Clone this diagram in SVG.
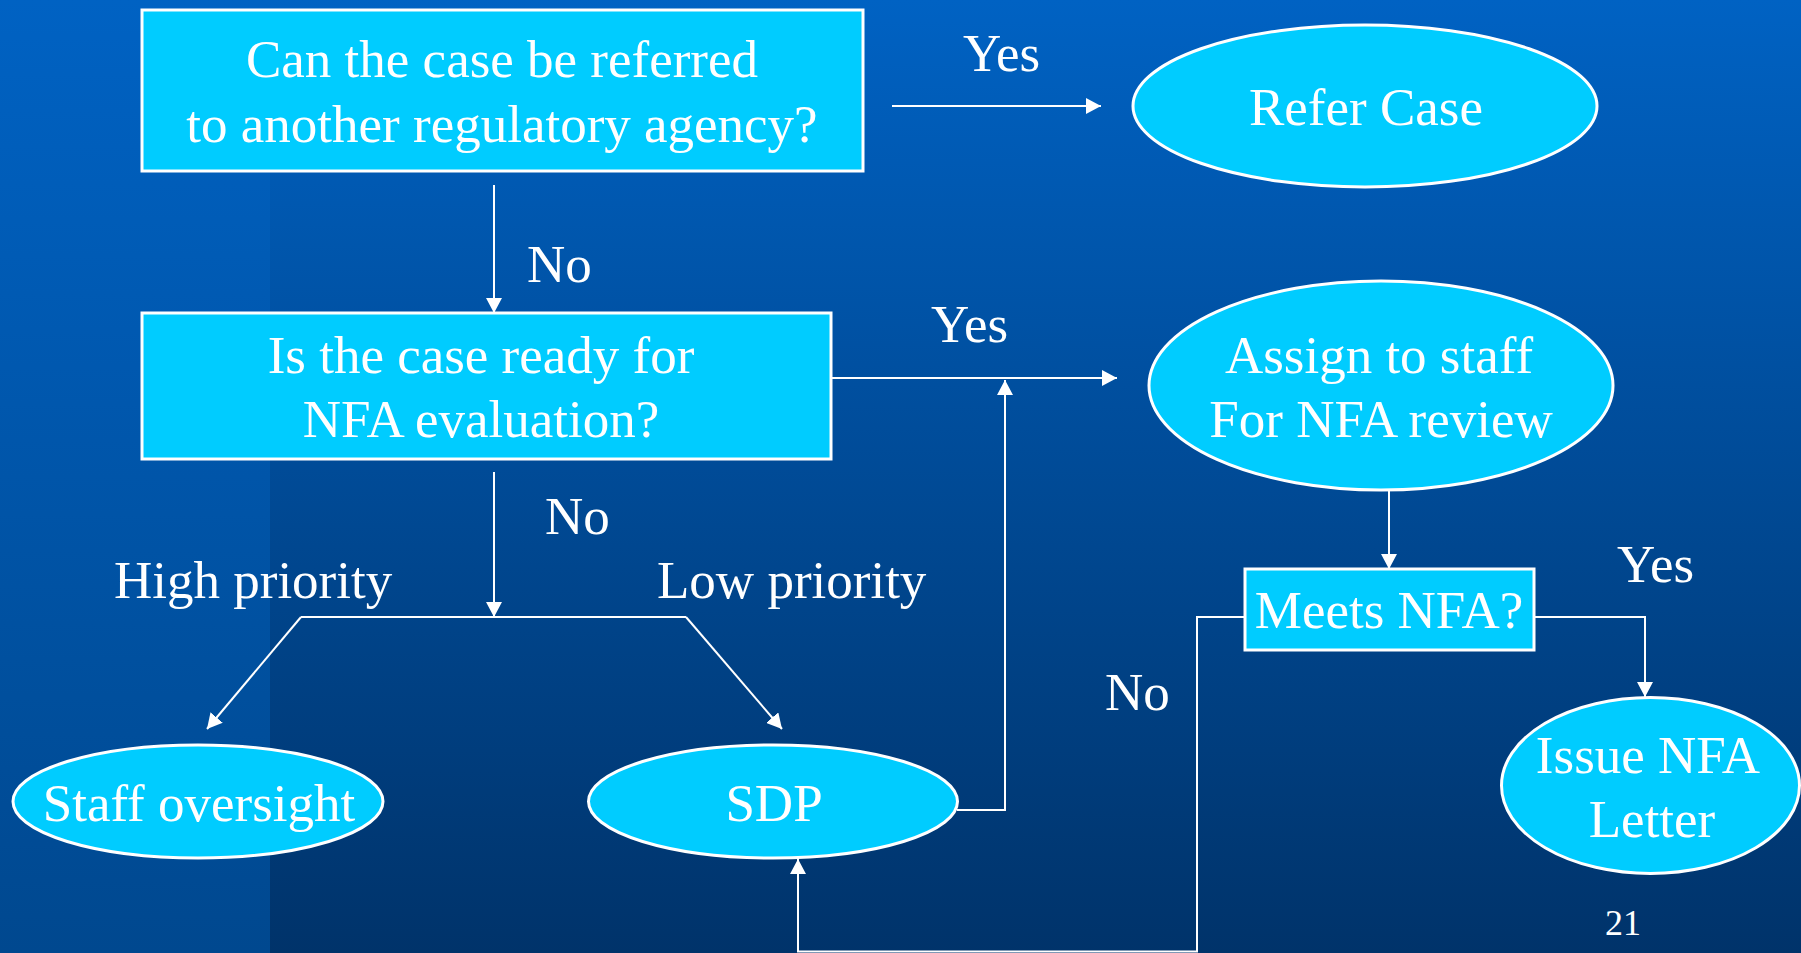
<svg xmlns="http://www.w3.org/2000/svg" width="1801" height="953" viewBox="0 0 1801 953">
<defs>
<linearGradient id="bgR" x1="0" y1="0" x2="0" y2="1">
<stop offset="0" stop-color="#0062C3"/>
<stop offset="1" stop-color="#00336A"/>
</linearGradient>
<linearGradient id="bgL" x1="0" y1="0" x2="0" y2="1">
<stop offset="0" stop-color="#0062C3"/>
<stop offset="1" stop-color="#00488F"/>
</linearGradient>
<marker id="ah" markerUnits="userSpaceOnUse" markerWidth="15" markerHeight="16" refX="15" refY="8" orient="auto">
<path d="M0,0 L15,8 L0,16 z" fill="#FFFFFF"/>
</marker>
<style>
.n{fill:#00CCFF;stroke:#FFFFFF;stroke-width:3}
.t{font-family:"Liberation Serif","Times New Roman",serif;font-size:53px;fill:#FFFFFF;text-anchor:middle}
.l{font-family:"Liberation Serif","Times New Roman",serif;font-size:53px;fill:#FFFFFF}
.c{fill:none;stroke:#FFFFFF;stroke-width:2}
.a{marker-end:url(#ah)}
</style>
</defs>
<rect x="0" y="0" width="1801" height="953" fill="url(#bgR)"/>
<rect x="0" y="0" width="270" height="953" fill="url(#bgL)"/>

<g id="connectors">
<path class="c a" d="M892,106 L1101,106"/>
<path class="c a" d="M494,185 L494,313"/>
<path class="c a" d="M831,378 L1117,378"/>
<path class="c a" d="M957,810 L1005,810 L1005,380"/>
<path class="c a" d="M494,472 L494,617"/>
<path class="c" d="M301,617 L686,617"/>
<path class="c a" d="M301,617 L207,729"/>
<path class="c a" d="M686,617 L782,729"/>
<path class="c a" d="M1389,490 L1389,569"/>
<path class="c a" d="M1534,617 L1645,617 L1645,697"/>
<path class="c a" d="M1245,617 L1197,617 L1197,951.5 L798,951.5 L798,859"/>
</g>

<g id="labels">
<text class="l" x="963" y="71">Yes</text>
<text class="l" x="527" y="282">No</text>
<text class="l" x="931" y="342">Yes</text>
<text class="l" x="545" y="534">No</text>
<text class="l" x="114" y="598">High priority</text>
<text class="l" x="657" y="598">Low priority</text>
<text class="l" x="1617" y="582">Yes</text>
<text class="l" x="1105" y="710">No</text>
<text class="l" x="1605" y="935" style="font-size:36px">21</text>
</g>

<g id="q1">
<rect class="n" x="142" y="10" width="721" height="161"/>
<text class="t" x="502" y="77">Can the case be referred</text>
<text class="t" x="502" y="142">to another regulatory agency?</text>
</g>
<g id="refer">
<ellipse class="n" cx="1365" cy="106" rx="232" ry="81"/>
<text class="t" x="1366" y="125">Refer Case</text>
</g>
<g id="q2">
<rect class="n" x="142" y="313" width="689" height="146"/>
<text class="t" x="481" y="373">Is the case ready for</text>
<text class="t" x="481" y="437">NFA evaluation?</text>
</g>
<g id="assign">
<ellipse class="n" cx="1381" cy="385.5" rx="232" ry="104.5"/>
<text class="t" x="1379" y="373">Assign to staff</text>
<text class="t" x="1381" y="437">For NFA review</text>
</g>
<g id="meets">
<rect class="n" x="1245" y="569" width="289" height="81"/>
<text class="t" x="1389" y="628">Meets NFA?</text>
</g>
<g id="staff">
<ellipse class="n" cx="198" cy="801.5" rx="185" ry="56.5"/>
<text class="t" x="199" y="821">Staff oversight</text>
</g>
<g id="sdp">
<ellipse class="n" cx="773" cy="801.5" rx="184.5" ry="56.5"/>
<text class="t" x="774" y="821">SDP</text>
</g>
<g id="issue">
<ellipse class="n" cx="1650.5" cy="785.5" rx="149" ry="88"/>
<text class="t" x="1648" y="773">Issue NFA</text>
<text class="t" x="1652" y="837">Letter</text>
</g>
</svg>
